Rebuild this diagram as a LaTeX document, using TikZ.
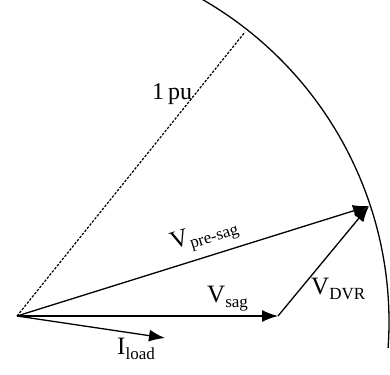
\documentclass[tikz,border=0pt]{standalone}
\usepackage{fontspec}
\setmainfont{Liberation Serif}
\usetikzlibrary{arrows.meta,positioning}
\newcommand{\phsr}[2]{{\fontsize{25}{27}\selectfont #1}\raisebox{-4.5pt}{\fontsize{17}{19}\selectfont #2}}

\begin{document}
\begin{tikzpicture}[x=1pt,y=1pt,
	phasor/.style={line width=1.3pt, -{Latex[length=16pt,width=12pt]}},
	puline/.style={line width=1.2pt, dash pattern=on 2.5pt off 1.5pt},
	comment/.style={inner sep=0pt, anchor=base west}]
			\useasboundingbox (0,0) rectangle (390,374);
			\clip (0,0) rectangle (390,374);
			\coordinate (O) at (17,58);
			\coordinate (S) at (278,58);
			\coordinate (P) at (369,168);
			\coordinate (L) at (165,36);
			\coordinate (D) at (245,342);
			\coordinate (C) at (17,52);
			
			% 1 pu circle
			\draw [line width=1.3pt] (C) ++(62:372) arc[start angle=62, end angle=-4, radius=372];
			\draw [puline] (O) -- (D);
			\node [comment] (pu) at (152,274) {\fontsize{24}{26}\selectfont 1\,pu};
			
			% phasors
			\draw [phasor] (O) -- (P);
			\draw [phasor] (O) -- (S);
			\draw [phasor] (S) -- (P);
			\draw [phasor] (O) -- (L);
			
			\node [comment, rotate=17.35] (Vpre) at (173,124) {\phsr{V}{pre-sag}};
			\node [comment] (Vsag) at (207,71) {\phsr{V}{sag}};
			\node [comment] (Vdvr) at (311,79) {\phsr{V}{DVR}};
			\node [comment] (Iload) at (117,19) {\phsr{I}{load}};
		\end{tikzpicture}
\end{document}
